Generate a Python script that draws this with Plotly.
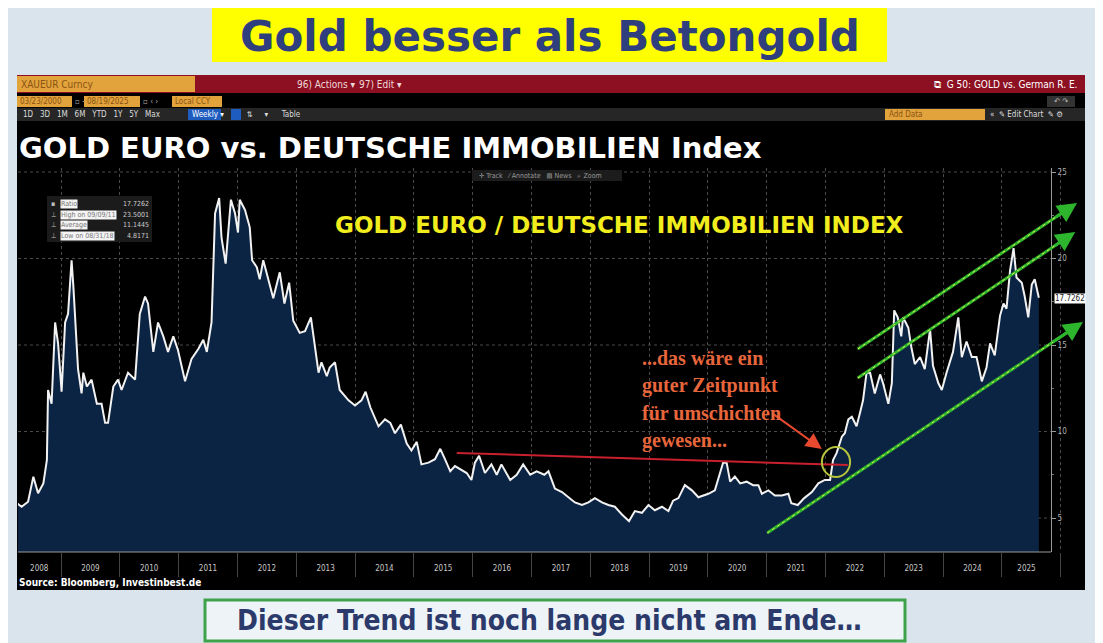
import plotly.graph_objects as go

week = [
    2008.25, 2008.33, 2008.44, 2008.53, 2008.61, 2008.70, 2008.76, 2008.78, 2008.84, 2008.90, 2008.95,
    2009.01, 2009.07, 2009.12, 2009.18, 2009.21, 2009.29, 2009.35, 2009.38, 2009.44, 2009.52, 2009.61, 2009.69, 2009.75, 2009.80, 2009.89, 2009.97,
    2010.03, 2010.14, 2010.26, 2010.34, 2010.43, 2010.48, 2010.57, 2010.65, 2010.74, 2010.82, 2010.91, 2010.99,
    2011.11, 2011.22, 2011.34, 2011.42, 2011.48, 2011.56, 2011.62, 2011.69, 2011.73, 2011.80, 2011.89, 2011.96,
    2012.01, 2012.04, 2012.13, 2012.21, 2012.25, 2012.33, 2012.38, 2012.44, 2012.53, 2012.61, 2012.72, 2012.80, 2012.88, 2012.95,
    2013.06, 2013.15, 2013.25, 2013.32, 2013.38, 2013.43, 2013.52, 2013.57, 2013.66, 2013.74, 2013.89,
    2014.00, 2014.11, 2014.18, 2014.26, 2014.40, 2014.51, 2014.60, 2014.68, 2014.78, 2014.88, 2014.96,
    2015.05, 2015.13, 2015.25, 2015.36, 2015.45, 2015.53, 2015.62, 2015.70, 2015.81, 2015.90, 2015.98,
    2016.04, 2016.11, 2016.21, 2016.32, 2016.41, 2016.49, 2016.64, 2016.75, 2016.86, 2016.98,
    2017.09, 2017.22, 2017.29, 2017.40, 2017.52, 2017.63, 2017.74, 2017.86, 2017.97,
    2018.08, 2018.20, 2018.31, 2018.42, 2018.54, 2018.66, 2018.76, 2018.88, 2018.99,
    2019.10, 2019.22, 2019.33, 2019.41, 2019.50, 2019.61, 2019.73, 2019.84, 2019.92,
    2020.01, 2020.12, 2020.21, 2020.26, 2020.32, 2020.38, 2020.46, 2020.55, 2020.66, 2020.77, 2020.86, 2020.92,
    2021.03, 2021.14, 2021.26, 2021.37, 2021.42, 2021.53, 2021.64, 2021.77, 2021.88, 2021.99,
    2022.08, 2022.13, 2022.19, 2022.28, 2022.33, 2022.39, 2022.45, 2022.53, 2022.59, 2022.64, 2022.70, 2022.76, 2022.84, 2022.93, 2022.98,
    2023.07, 2023.13, 2023.17, 2023.23, 2023.29, 2023.32, 2023.41, 2023.46, 2023.52, 2023.61, 2023.69, 2023.78, 2023.83, 2023.92, 2023.98,
    2024.06, 2024.17, 2024.26, 2024.32, 2024.40, 2024.49, 2024.57, 2024.66, 2024.74, 2024.80, 2024.88, 2024.97,
    2025.03, 2025.08, 2025.14, 2025.20, 2025.25, 2025.34, 2025.39, 2025.45, 2025.51, 2025.56, 2025.63,
]
ratio = [
    5.85, 5.65, 5.94, 7.39, 6.43, 7.0, 8.35, 12.4, 11.6, 16.3, 15.1,
    12.3, 16.3, 16.8, 19.9, 18.4, 13.6, 12.2, 13.4, 12.6, 13.0, 11.6, 11.6, 10.5, 10.5, 12.6, 13.0,
    12.4, 13.4, 13.0, 16.8, 17.8, 17.4, 14.6, 16.3, 15.5, 14.6, 15.5, 14.7,
    12.9, 14.2, 14.8, 15.3, 14.6, 16.3, 22.6, 23.5, 21.2, 19.7, 23.4, 22.6,
    21.5, 23.4, 22.8, 21.8, 19.9, 19.5, 18.8, 19.9, 18.8, 17.7, 19.2, 17.4, 18.6, 16.4,
    15.7, 15.8, 16.6, 14.9, 13.4, 14.0, 13.2, 13.7, 14.0, 12.4, 11.8,
    11.5, 11.8, 12.3, 11.4, 10.3, 10.7, 10.5, 9.9, 10.4, 9.3, 8.9,
    9.4, 8.1, 8.2, 8.4, 9.0, 8.4, 7.7, 8.0, 7.8, 7.6, 7.2,
    8.2, 8.6, 7.6, 8.1, 7.5, 8.1, 7.2, 7.5, 8.1, 7.5,
    7.7, 7.5, 7.7, 6.7, 6.5, 6.2, 5.9, 5.75, 5.9,
    6.15, 5.9, 5.75, 5.65, 5.2, 4.82, 5.4, 5.3, 5.75,
    5.45, 5.65, 5.4, 6.0, 6.15, 6.9, 6.6, 6.2, 6.3,
    6.4, 6.6, 7.7, 8.2, 8.2, 7.1, 7.4, 7.0, 7.1, 6.9, 6.9, 6.4,
    6.6, 6.3, 6.3, 6.4, 5.85, 5.75, 6.15, 6.5, 7.0, 7.2,
    7.2, 8.35, 8.75, 9.7, 9.9, 10.7, 10.85, 10.3, 11.1, 11.8, 13.4, 13.4, 12.2, 13.3, 12.8,
    11.6, 12.8, 17.0, 16.6, 15.5, 16.6, 16.0, 14.9, 13.9, 14.3, 13.6, 15.9, 13.8, 12.8, 12.4,
    13.4, 14.6, 16.6, 14.3, 15.2, 14.3, 14.3, 12.9, 13.7, 15.1, 14.4, 16.7,
    17.4, 17.1, 19.3, 20.6, 18.9, 18.6, 17.8, 16.6, 18.5, 18.8, 17.7262,
]

year_labels = [str(y) for y in range(2008, 2026)]
year_label_pos = [2008.63] + [y + 0.5 for y in range(2009, 2025)] + [2025.42]
y_ticks = [5, 10, 15, 20, 25]

legend_rows = [("Ratio", "17.7262"), ("High on 09/09/11", "23.5001"),
               ("Average", "11.1445"), ("Low on 08/31/18", "4.8171")]

# hand-drawn marks on the original: (x_tail, y_tail, x_head, y_head) in chart units
green_arrows = [(2021.01, 4.13, 2026.38, 16.33),
                (2022.55, 13.09, 2026.25, 21.53),
                (2022.55, 14.77, 2026.28, 23.21)]
red_line = (2015.73, 8.76, 2022.38, 8.06)
red_arrow = (2021.09, 11.07, 2021.94, 8.99)
circle_box = (2021.94, 7.37, 2022.42, 9.10)
note_lines = ["...das wäre ein", "guter Zeitpunkt", "für umschichten", "gewesen..."]

# the page body adds an 8px margin, so the figure is laid out 8px smaller
OFF = 8
W, H = 1103 - OFF, 643 - OFF
ML, MT = 18 - OFF, 168 - OFF
MR, MB = W - (1088 - OFF), H - (552 - OFF)
PW, PH = W - ML - MR, H - MT - MB
AXIS_X = 1051  # screen position of the Bloomberg value axis
NARROW = "Liberation Sans Narrow, DejaVu Sans Condensed, sans-serif"


def px(x):
    return (x - OFF - ML) / PW


def py(y):
    return 1 - (y - OFF - MT) / PH


x_lo = 2009 + (18 - 61) / 58.8
x_hi = 2009 + (1088 - 61) / 58.8
y_lo = 5 - (552 - 518) / 17.3
y_hi = 5 + (518 - 168) / 17.3

fig = go.Figure()
fig.add_trace(go.Scatter(
    x=week, y=ratio, mode="lines", fill="tozeroy",
    fillcolor="#0c2444", line=dict(color="#f2f2f2", width=2),
    hoverinfo="skip", showlegend=False,
))

shapes = []
annotations = []


def rect(x0, y0, x1, y1, color, line=None, layer="below"):
    shapes.append(dict(type="rect", xref="paper", yref="paper",
                       x0=px(x0), x1=px(x1), y0=py(y0), y1=py(y1),
                       fillcolor=color, line=line or dict(width=0), layer=layer))


def text(x, y, s, size, color, anchor="left", bold=False, family=NARROW, bg=None):
    annotations.append(dict(xref="paper", yref="paper", x=px(x), y=py(y),
                            text=f"<b>{s}</b>" if bold else s, showarrow=False,
                            xanchor=anchor, yanchor="middle",
                            font=dict(size=size, color=color, family=family),
                            bgcolor=bg, borderpad=0))


# slide title
rect(212, 4, 887, 62, "#ffff00")
text(550, 36, "Gold besser als Betongold", 42, "#2f3e7c", anchor="center", bold=True,
     family="DejaVu Sans, sans-serif")

# Bloomberg window
rect(17, 75, 1085, 590, "#000000")
rect(17, 75, 1085, 93, "#8c1022")
rect(17, 76, 195, 92, "#e2a23c")
text(20, 84, "XAUEUR Curncy", 10, "#8a5412")
text(296, 84, "96) Actions ▾", 10, "#f0d8d8")
text(358, 84, "97) Edit ▾", 10, "#f0d8d8")
text(1078, 84, "⧉  G 50: GOLD vs. German R. E.", 10, "#ffffff", anchor="right")
rect(17, 96, 72, 107, "#e2a23c")
rect(84, 96, 140, 107, "#e2a23c")
rect(172, 96, 222, 107, "#e2a23c")
text(19, 101.5, "03/23/2000", 8, "#8a5412")
text(86, 101.5, "08/19/2025", 8, "#8a5412")
text(174, 101.5, "Local CCY", 8, "#8a5412")
text(74, 101.5, "▫ -", 8, "#aaaaaa")
text(142, 101.5, "▫ ‹ ›", 8, "#aaaaaa")
rect(1047, 96, 1075, 107, "#333333")
text(1061, 101.5, "↶ ↷", 8, "#bbbbbb", anchor="center")
rect(17, 108, 1085, 121, "#262626")
text(22, 114.5, "1D   3D   1M   6M   YTD   1Y   5Y   Max", 8, "#dddddd")
rect(188, 109, 221, 120, "#1f5cc0")
text(191, 114.5, "Weekly ▾", 8, "#ffffff")
rect(231, 109, 241, 120, "#1f5cc0")
text(246, 114.5, "⇅     ▾      Table", 8, "#dddddd")
rect(885, 109, 985, 120, "#e2a23c")
text(888, 114.5, "Add Data", 8, "#8a5412")
text(989, 114.5, "«  ✎ Edit Chart  ✎ ⚙", 8, "#dddddd")

# chart titles
text(18, 148, "GOLD EURO vs. DEUTSCHE IMMOBILIEN Index", 29, "#ffffff", bold=True,
     family="DejaVu Sans, sans-serif")
rect(472, 170, 622, 181, "#1c1c1c", layer="above")
text(478, 175.5, "✛ Track   ⁄ Annotate   ▤ News   ⌕ Zoom", 7, "#999999")
text(619, 225, "GOLD EURO / DEUTSCHE IMMOBILIEN INDEX", 23, "#f2ee1e", anchor="center", bold=True,
     family="DejaVu Sans, sans-serif")

# legend box
rect(47, 196, 152, 242, "#1b1b1b", layer="above")
for i, (label, val) in enumerate(legend_rows):
    yy = 204 + i * 10.5
    text(50, yy, "▪" if i == 0 else "⊥", 7, "#bbbbbb")
    text(60, yy, label, 7, "#777777", bg="#f4f4f4")
    text(150, yy, val, 7, "#cccccc", anchor="right")

# last value tag on the axis
text(1054, 298, "17.7262", 8, "#222222", bg="#ffffff")

text(18, 582, "Source: Bloomberg, Investinbest.de", 10, "#ffffff", bold=True)

# bottom banner
shapes.append(dict(type="rect", xref="paper", yref="paper",
                   x0=px(205), x1=px(905), y0=py(600), y1=py(641),
                   fillcolor="#eef3f7", line=dict(color="#3ea24a", width=3), layer="below"))
text(549, 620, "Dieser Trend ist noch lange nicht am Ende…", 28, "#2b3a6b", anchor="center", bold=True)

# gridlines stop at the value axis
for v in y_ticks:
    shapes.append(dict(type="line", xref="paper", yref="y", x0=0, x1=px(AXIS_X), y0=v, y1=v,
                       line=dict(color="#4a4a4a", width=1, dash="dot"), layer="below"))
shapes.append(dict(type="line", xref="paper", yref="paper", x0=0, x1=px(AXIS_X), y0=0, y1=0,
                   line=dict(color="#9a9a9a", width=1), layer="above"))

# red horizontal mark, circle and arrows drawn on the original
shapes.append(dict(type="line", xref="x", yref="y", x0=red_line[0], y0=red_line[1],
                   x1=red_line[2], y1=red_line[3], line=dict(color="#c8202c", width=2)))
shapes.append(dict(type="circle", xref="x", yref="y", x0=circle_box[0], y0=circle_box[1],
                   x1=circle_box[2], y1=circle_box[3], line=dict(color="#b5c43a", width=2)))
annotations.append(dict(xref="x", yref="y", axref="x", ayref="y",
                        x=red_arrow[2], y=red_arrow[3], ax=red_arrow[0], ay=red_arrow[1],
                        text="", showarrow=True, arrowhead=2, arrowsize=1.6, arrowwidth=2,
                        arrowcolor="#e84a30"))
for xt, yt, xh, yh in green_arrows:
    xe, ye = xt + (xh - xt) * 0.95, yt + (yh - yt) * 0.95
    shapes.append(dict(type="line", xref="x", yref="y", x0=xt, y0=yt, x1=xe, y1=ye,
                       line=dict(color="#2db52d", width=3), layer="above"))
    # yellow dotted pattern along the green strokes
    shapes.append(dict(type="line", xref="x", yref="y", x0=xt, y0=yt, x1=xe, y1=ye,
                       line=dict(color="#e8ea4c", width=1, dash="dot"), layer="above"))
    annotations.append(dict(xref="x", yref="y", axref="x", ayref="y",
                            x=xh, y=yh, ax=xt + (xh - xt) * 0.9, ay=yt + (yh - yt) * 0.9,
                            text="", showarrow=True, arrowhead=2, arrowsize=1.3,
                            arrowwidth=3, arrowcolor="#2db52d"))

for i, line in enumerate(note_lines):
    text(641, 358 + i * 27.5, line, 20, "#e8663c", bold=True,
         family="Liberation Serif, DejaVu Serif, serif")

fig.update_layout(
    width=W, height=H,
    margin=dict(l=ML, r=MR, t=MT, b=MB, pad=0),
    paper_bgcolor="#dae4ed",
    plot_bgcolor="rgba(0,0,0,0)",
    shapes=shapes,
    annotations=annotations,
    showlegend=False,
    xaxis=dict(
        range=[x_lo, x_hi], showgrid=False, zeroline=False, showline=False,
        tickmode="array", tickvals=year_label_pos, ticktext=year_labels,
        ticks="", ticklabelstandoff=10,
        tickfont=dict(size=8, color="#c8c8c8", family=NARROW),
        minor=dict(tick0=2009, dtick=1, ticks="outside", ticklen=24, tickcolor="#444444",
                   showgrid=True, gridcolor="#4a4a4a", griddash="dot", gridwidth=1),
    ),
    yaxis=dict(
        range=[y_lo, y_hi], side="right", anchor="free", position=px(AXIS_X),
        showgrid=False, zeroline=False, showline=True, linecolor="#9a9a9a",
        tickmode="array", tickvals=y_ticks, ticks="outside", ticklen=4, tickcolor="#9a9a9a",
        tickfont=dict(size=8, color="#b0b0b0", family=NARROW),
        minor=dict(dtick=2.5, ticks="outside", ticklen=2, tickcolor="#777777"),
    ),
)

fig.write_html("out.html")
